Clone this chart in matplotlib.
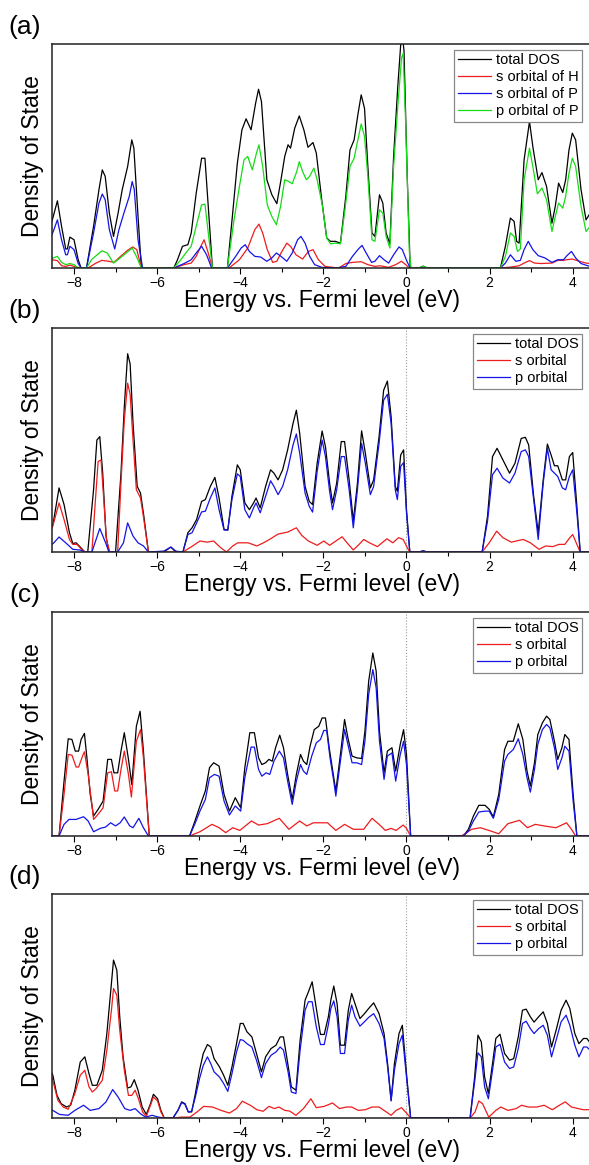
import numpy as np
import matplotlib
matplotlib.use("Agg")
import matplotlib.pyplot as plt
from matplotlib.ticker import MultipleLocator

plt.rcParams["font.family"] = ["Liberation Sans", "DejaVu Sans"]

# (energy eV, DOS in % of panel height)
a_total = [(-8.53,21),(-8.5,23),(-8.4,30),(-8.3,18.6),(-8.2,8.5),(-8.16,8.5),(-8.1,13.8),(-8.0,12.6),(-7.9,3.7),(-7.83,0),(-7.7,0),
           (-7.53,18.6),(-7.4,35),(-7.32,43.8),(-7.25,40.9),(-7.15,24.5),(-7.05,14.1),(-6.94,24.5),(-6.84,35),(-6.71,45.3),
           (-6.61,57.2),(-6.56,53.5),(-6.46,23),(-6.38,0),(-5.6,0),(-5.51,3.7),(-5.39,9.7),(-5.26,10.4),(-5.18,15.6),(-5.06,33.4),
           (-4.93,49),(-4.85,49),(-4.77,27.5),(-4.67,0),(-4.31,0),(-4.19,23),(-4.07,46.8),(-3.96,61.7),(-3.86,66.6),(-3.74,61.7),
           (-3.63,73.6),(-3.56,79.8),(-3.49,74.3),(-3.36,39.4),(-3.24,32.7),(-3.12,28.7),(-3.02,39.4),(-2.93,49.8),(-2.85,55),
           (-2.79,53.5),(-2.69,62.4),(-2.58,67.9),(-2.47,61.7),(-2.37,53.9),(-2.25,56),(-2.17,51.3),(-2.04,30.5),(-1.92,13.4),
           (-1.83,11.9),(-1.71,11.9),(-1.59,11.1),(-1.46,32),(-1.36,52.7),(-1.26,57.2),(-1.17,68.4),(-1.09,77.3),(-1.01,71.3),
           (-0.93,45.3),(-0.83,15.6),(-0.76,14.1),(-0.65,32.7),(-0.57,29),(-0.49,15.6),(-0.4,10.8),(-0.31,49.8),(-0.21,81),
           (-0.14,99.5),(-0.1,104),(-0.06,97),(0.02,39.4),(0.09,0),(0.3,0),(0.4,0.8),(0.5,0),(2.26,0),(2.38,9.7),(2.5,22.3),
           (2.59,20.8),(2.65,11.9),(2.71,11.1),(2.83,48.3),(2.96,65.4),(3.04,54.2),(3.17,39.4),(3.26,42.6),(3.37,36.4),(3.5,20),
           (3.58,27.5),(3.66,37.9),(3.76,33.7),(3.83,39.4),(3.91,52.7),(3.99,60.2),(4.07,57.2),(4.2,35),(4.32,21.5),(4.42,24.5)]
a_s_h = [(-8.53,3.7),(-8.4,3.3),(-8.3,1),(-8.2,0.7),(-8.1,1.3),(-7.95,0.4),(-7.83,0),(-7.66,0),(-7.49,2),(-7.33,3.4),(-7.16,3),
         (-7.04,2.5),(-6.88,5.2),(-6.71,7.9),(-6.59,9.4),(-6.49,8.2),(-6.38,0),(-5.6,0),(-5.35,1.5),(-5.18,2.2),(-5.06,5.2),
         (-4.93,10.4),(-4.87,12.6),(-4.77,6.7),(-4.67,0),(-4.27,0),(-4.02,3.7),(-3.82,8.9),(-3.65,17.1),(-3.55,19.6),(-3.46,15.6),
         (-3.35,8.2),(-3.22,2.5),(-3.12,3),(-3.02,6.7),(-2.88,11.1),(-2.79,9.7),(-2.66,5.9),(-2.5,4),(-2.36,7.4),(-2.25,8.2),
         (-2.12,3.7),(-1.96,0.7),(-1.63,0),(-1.46,2),(-1.3,2.5),(-1.09,2.8),(-0.93,1.5),(-0.76,0.7),(-0.64,1),(-0.43,0.3),
         (-0.26,1.5),(-0.12,3),(-0.02,1.5),(0.07,0),(2.26,0),(2.5,0.4),(2.71,1),(2.83,2.2),(2.96,3.3),(3.08,2.2),(3.24,2),
         (3.5,2.2),(3.64,3.4),(3.78,3.4),(3.86,3.7),(3.99,4),(4.16,3),(4.32,2.2),(4.42,2)]
a_s_p = [(-8.53,15),(-8.5,16.3),(-8.4,21.5),(-8.3,12.6),(-8.2,5.9),(-8.16,5.9),(-8.1,9.7),(-8.0,8.2),(-7.9,2),(-7.83,0),(-7.7,0),
         (-7.53,15.6),(-7.4,29),(-7.32,33),(-7.25,30.5),(-7.15,17.1),(-7.02,8.5),(-6.92,17.1),(-6.8,24.5),(-6.67,32),(-6.6,38.6),
         (-6.55,35),(-6.46,12.6),(-6.35,0),(-5.6,0),(-5.35,2),(-5.18,3.7),(-5.06,6.7),(-4.93,9.7),(-4.81,5.9),(-4.69,0),(-4.31,0),
         (-4.11,5.2),(-3.98,8.9),(-3.88,10.4),(-3.78,7.4),(-3.65,5.2),(-3.51,4.9),(-3.36,3),(-3.24,4.5),(-3.13,6.7),(-3.02,5.2),
         (-2.88,3),(-2.75,6.7),(-2.62,12.6),(-2.54,14.1),(-2.44,11.1),(-2.33,5.2),(-2.21,1.5),(-2.04,0.3),(-1.7,0),(-1.46,0.7),
         (-1.3,5.2),(-1.17,8.2),(-1.07,10.1),(-0.97,6.7),(-0.84,2.5),(-0.76,3),(-0.65,5.5),(-0.54,3.7),(-0.43,2.2),(-0.31,5.9),
         (-0.18,9.4),(-0.1,8.2),(0.01,3),(0.09,0),(0.3,0),(0.4,0.6),(0.5,0),(2.26,0),(2.38,2.2),(2.5,5.9),(2.63,3),(2.74,3.4),
         (2.83,8.2),(2.93,11.9),(3.04,8.2),(3.17,5.5),(3.33,4.5),(3.5,2.5),(3.64,3.7),(3.78,3.7),(3.86,5.5),(3.97,7.4),(4.07,4.5),
         (4.2,2),(4.36,1),(4.42,0.8)]
a_p_p = [(-8.53,4.3),(-8.4,5.2),(-8.3,2.5),(-8.2,1.5),(-8.1,2),(-8.0,1.5),(-7.9,0),(-7.7,0),(-7.58,3.7),(-7.33,7.7),(-7.2,6.7),
         (-7.05,2.2),(-6.84,5.2),(-6.6,8.9),(-6.5,5.2),(-6.38,0),(-5.6,0),(-5.43,3.7),(-5.31,6.7),(-5.18,9.7),(-5.06,18.6),
         (-4.93,28.2),(-4.85,28.5),(-4.75,12.6),(-4.67,0),(-4.31,0),(-4.15,21.5),(-4.02,36.4),(-3.91,48.3),(-3.82,49.8),
         (-3.71,43.8),(-3.61,51.3),(-3.55,55),(-3.46,45.3),(-3.35,28.2),(-3.24,23),(-3.13,19.3),(-3.03,27.5),(-2.93,39.4),
         (-2.83,38.6),(-2.75,37.6),(-2.64,43.1),(-2.58,47.5),(-2.5,43.1),(-2.41,39.4),(-2.33,40.9),(-2.23,44.6),(-2.15,39.4),
         (-2.02,27.5),(-1.92,13.4),(-1.83,10.8),(-1.71,11.1),(-1.59,10.8),(-1.48,26),(-1.36,45.3),(-1.26,49),(-1.17,57.2),
         (-1.09,64.3),(-1.01,58.7),(-0.93,40.9),(-0.83,12.6),(-0.76,11.9),(-0.65,26),(-0.57,24.5),(-0.49,14.1),(-0.4,8.9),
         (-0.31,45.3),(-0.21,72),(-0.12,93.6),(-0.08,95.8),(-0.02,64.6),(0.07,6.7),(0.11,0),(0.3,0),(0.4,0.8),(0.5,0),(2.26,0),
         (2.38,5.2),(2.5,15.6),(2.59,14.1),(2.67,7.4),(2.74,8.5),(2.83,39.4),(2.96,53.5),(3.04,45.3),(3.15,33.1),(3.26,35.7),
         (3.37,30.5),(3.5,16.3),(3.58,23),(3.66,29),(3.76,26.7),(3.83,32),(3.91,42.3),(3.99,49),(4.07,45.3),(4.2,27.5),
         (4.32,16.3),(4.42,18.6)]

b_total = [(-8.53,11),(-8.5,13),(-8.36,28.6),(-8.24,21.2),(-8.11,8.6),(-8.03,3.8),(-7.95,4.1),(-7.86,2.4),(-7.74,0),(-7.67,0),
           (-7.53,27.8),(-7.45,50),(-7.38,51.5),(-7.31,35.2),(-7.23,7.1),(-7.16,0),(-7.0,0),(-6.87,35.2),(-6.79,64.8),(-6.71,88.5),
           (-6.65,84),(-6.58,57.4),(-6.48,29.3),(-6.4,26.3),(-6.32,16),(-6.21,0),(-5.84,0),(-5.67,2.2),(-5.55,0),(-5.38,0),
           (-5.26,8.6),(-5.16,10.8),(-5.05,14.5),(-4.93,22.6),(-4.84,23.4),(-4.72,29.3),(-4.61,33.3),(-4.51,24.1),(-4.39,10.1),
           (-4.3,9.8),(-4.2,24.9),(-4.07,38.9),(-4.0,36.7),(-3.89,21.9),(-3.78,18.9),(-3.68,21.9),(-3.62,24.1),(-3.52,19.7),
           (-3.39,29.3),(-3.27,36.7),(-3.19,35.2),(-3.09,32.2),(-2.98,36.7),(-2.86,45.6),(-2.73,57.4),(-2.65,63.3),(-2.57,53),
           (-2.44,29.3),(-2.34,22.6),(-2.26,21.2),(-2.15,39.6),(-2.03,54),(-1.95,47),(-1.85,30.8),(-1.78,21.9),(-1.68,30.8),
           (-1.57,49.3),(-1.49,49.3),(-1.38,32.2),(-1.28,13.8),(-1.18,30.8),(-1.08,54.1),(-0.99,44.1),(-0.87,28.6),(-0.79,32.2),
           (-0.66,51.5),(-0.55,72.2),(-0.46,76.3),(-0.37,60.4),(-0.27,29.3),(-0.22,27.1),(-0.14,43.3),(-0.07,45.6),(0.0,18.9),
           (0.08,0),(0.3,0),(0.4,0.5),(0.5,0),(1.82,0),(1.95,16),(2.07,42.6),(2.18,46.3),(2.32,41.1),(2.48,35.2),(2.61,39.6),
           (2.76,50.7),(2.86,51.2),(2.94,47.8),(3.06,24.9),(3.17,8.6),(3.29,32.2),(3.39,48.2),(3.48,43.3),(3.56,38.5),(3.64,38.5),
           (3.75,32.2),(3.83,32.2),(3.92,42.6),(4.0,44.4),(4.1,20.4),(4.18,0),(4.42,0)]
b_s = [(-8.53,10.5),(-8.5,12.3),(-8.36,21.9),(-8.24,14.5),(-8.11,5.6),(-8.03,3.4),(-7.93,3.4),(-7.82,1.2),(-7.74,0),(-7.57,0),
       (-7.49,21.9),(-7.42,40.4),(-7.35,41.1),(-7.29,24.9),(-7.22,5.6),(-7.14,0),(-6.95,0),(-6.87,30.8),(-6.79,58.9),(-6.71,75.4),
       (-6.65,70.4),(-6.58,50),(-6.5,27.8),(-6.4,24.1),(-6.32,14.5),(-6.21,0),(-5.38,0),(-5.17,2.4),(-4.97,4.9),(-4.8,4.4),
       (-4.64,4.9),(-4.47,1.9),(-4.33,0),(-4.18,2.7),(-4.06,4.1),(-3.81,4.1),(-3.6,2.7),(-3.44,4.1),(-3.27,5.9),(-3.09,8),
       (-2.86,8.9),(-2.65,10.8),(-2.52,7.4),(-2.36,4.9),(-2.15,3),(-1.99,4.9),(-1.85,3),(-1.7,4.9),(-1.55,6.8),(-1.43,4.1),
       (-1.28,0.9),(-1.16,3),(-1.03,5.6),(-0.89,4.1),(-0.7,2.4),(-0.47,5.9),(-0.33,4.1),(-0.19,6.4),(-0.08,5.6),(0.02,1.9),
       (0.08,0),(1.82,0),(1.99,4.1),(2.17,9.3),(2.32,6.4),(2.52,4.4),(2.81,5.6),(2.98,4.1),(3.19,1.2),(3.35,2.7),(3.52,2.4),
       (3.67,3.4),(3.81,3.4),(3.93,6.4),(4.0,7.8),(4.1,3.4),(4.18,0),(4.42,0)]
b_p = [(-8.53,3.5),(-8.5,3.8),(-8.36,6.7),(-8.2,4.1),(-8.03,1.2),(-7.86,0.9),(-7.74,0),(-7.57,0),(-7.38,10.5),(-7.24,4.1),
       (-7.16,0),(-6.95,0),(-6.81,4.1),(-6.71,13),(-6.58,7.1),(-6.46,4.1),(-6.33,2.7),(-6.21,0),(-5.84,0.4),(-5.67,2.2),
       (-5.55,0.4),(-5.38,0),(-5.26,7.8),(-5.16,8.6),(-5.05,13),(-4.93,17.9),(-4.84,18.2),(-4.72,24.1),(-4.61,28.6),(-4.51,18.9),
       (-4.39,9.8),(-4.3,9.8),(-4.2,23.4),(-4.07,34.9),(-4.0,33.7),(-3.89,18.9),(-3.78,15.2),(-3.68,19.7),(-3.62,21.9),
       (-3.52,17.5),(-3.39,24.9),(-3.27,31.8),(-3.19,29.3),(-3.09,25.6),(-2.98,29.3),(-2.86,36.7),(-2.73,47.8),(-2.65,52.7),
       (-2.57,44.1),(-2.44,26.3),(-2.34,20.4),(-2.26,17.8),(-2.15,35.9),(-2.03,50),(-1.95,42.6),(-1.85,27.1),(-1.78,18.9),
       (-1.68,27.8),(-1.57,42.6),(-1.49,42.6),(-1.38,27.8),(-1.28,10.8),(-1.18,27.8),(-1.08,48.5),(-0.99,39.6),(-0.87,25.6),
       (-0.79,29.3),(-0.66,48.5),(-0.55,67.8),(-0.46,70.4),(-0.37,57.4),(-0.27,27.8),(-0.22,23.4),(-0.14,38.2),(-0.07,39.9),
       (0.0,17.5),(0.08,0),(0.3,0),(0.4,0.5),(0.5,0),(1.82,0),(1.95,13.8),(2.07,34.5),(2.18,37.4),(2.32,33),(2.48,30.8),
       (2.61,35.2),(2.76,44.8),(2.86,45.6),(2.94,42.6),(3.06,23.4),(3.17,5.6),(3.29,30.8),(3.39,46.3),(3.48,36.7),(3.56,35.2),
       (3.64,33.7),(3.75,28.6),(3.83,27.8),(3.92,33.7),(4.0,36.7),(4.1,17.5),(4.18,0),(4.42,0)]

c_total = [(-8.53,0),(-8.36,0),(-8.24,24.5),(-8.14,43.4),(-8.05,43.1),(-7.97,37.9),(-7.89,37.9),(-7.83,43.1),(-7.75,45.8),
           (-7.69,34.9),(-7.61,18.6),(-7.53,8.9),(-7.42,11.9),(-7.3,15.6),(-7.19,34.2),(-7.1,34.2),(-7.04,28.2),(-6.95,28.2),
           (-6.87,37.9),(-6.79,46.1),(-6.69,34.2),(-6.61,23),(-6.5,49),(-6.41,55.7),(-6.33,37.9),(-6.19,0),(-5.22,0),(-5.09,6.7),
           (-4.97,13.4),(-4.84,20.1),(-4.74,30.5),(-4.64,32.7),(-4.51,31.2),(-4.39,18.6),(-4.26,11.1),(-4.12,17.1),(-3.99,12.6),
           (-3.89,30.5),(-3.77,46.1),(-3.66,46.1),(-3.56,34.9),(-3.48,31.9),(-3.39,32.7),(-3.31,34.2),(-3.23,33.4),(-3.15,39.4),
           (-3.05,45),(-2.96,39.4),(-2.86,27.5),(-2.75,16.3),(-2.65,27.5),(-2.55,36.4),(-2.48,33.4),(-2.4,31.9),(-2.32,40.1),
           (-2.22,47.5),(-2.11,49),(-2.03,52.7),(-1.95,52.7),(-1.86,39.4),(-1.75,26),(-1.7,20.1),(-1.59,36.4),(-1.49,52),
           (-1.41,43.8),(-1.31,35.7),(-1.2,34.9),(-1.08,34.6),(-1.0,46.8),(-0.91,69.1),(-0.81,81.7),(-0.73,73.6),(-0.65,46.8),
           (-0.54,28.2),(-0.46,37.9),(-0.35,39.4),(-0.26,29),(-0.15,40.9),(-0.07,47.5),(0.0,36.4),(0.1,0),(1.37,0),(1.49,3),
           (1.61,8.9),(1.74,13.7),(1.89,13.7),(1.99,11.9),(2.09,8.5),(2.22,18.6),(2.36,38.6),(2.44,42.3),(2.57,42.3),(2.69,50.1),
           (2.8,43.1),(2.9,29),(2.98,22.3),(3.08,32.7),(3.16,45.3),(3.27,50.5),(3.37,53.5),(3.45,52),(3.56,42.3),(3.64,34.2),
           (3.74,39.4),(3.81,45.3),(3.91,43.1),(4.01,18.6),(4.1,0),(4.42,0)]
c_s = [(-8.53,0),(-8.36,0),(-8.24,18.6),(-8.14,36.4),(-8.05,36.1),(-7.95,30.8),(-7.89,30.8),(-7.78,36.4),(-7.75,37.6),
       (-7.66,27.5),(-7.57,14.1),(-7.53,7.4),(-7.42,9.7),(-7.3,12.6),(-7.19,28.2),(-7.1,28.7),(-7.02,20.1),(-6.95,20.1),
       (-6.87,29.7),(-6.79,37.9),(-6.69,27.5),(-6.62,17.4),(-6.5,42.3),(-6.4,47.5),(-6.33,34.9),(-6.19,0),(-5.22,0),(-4.97,1.9),
       (-4.68,5.2),(-4.51,3.7),(-4.35,1.5),(-4.18,3.7),(-4.01,2.5),(-3.73,6.7),(-3.56,4.9),(-3.35,5.5),(-3.06,7.9),(-2.83,3),
       (-2.57,6.7),(-2.4,4.5),(-2.24,5.9),(-1.9,5.9),(-1.7,2.5),(-1.49,5.2),(-1.28,3),(-1.03,3),(-0.83,7.9),(-0.66,5.2),
       (-0.51,2.5),(-0.37,3.4),(-0.25,2.5),(-0.08,4.9),(0.0,3.4),(0.1,0),(1.32,0),(1.57,3),(1.78,3.7),(2.03,2.2),(2.22,1),
       (2.44,5.5),(2.72,7),(2.91,3.7),(3.1,5.2),(3.31,4.5),(3.6,3.7),(3.85,5.9),(3.97,3),(4.07,0),(4.42,0)]
c_p = [(-8.53,0),(-8.36,0),(-8.24,5.2),(-8.12,7.4),(-7.95,7.4),(-7.77,8.6),(-7.66,6.7),(-7.53,1.9),(-7.37,3.4),(-7.24,4),
       (-7.12,5.9),(-7.0,4.5),(-6.89,5.9),(-6.79,8.5),(-6.66,4.5),(-6.58,3.7),(-6.44,7.9),(-6.33,3.7),(-6.21,0),(-5.22,0),
       (-5.09,5.5),(-4.97,11.1),(-4.84,16.3),(-4.74,26),(-4.62,27.5),(-4.51,26.7),(-4.39,15.6),(-4.26,9.4),(-4.12,13.4),
       (-3.99,11.1),(-3.89,26),(-3.74,39.7),(-3.66,39.7),(-3.56,29.7),(-3.48,26.7),(-3.38,28.2),(-3.29,27.5),(-3.19,33.4),
       (-3.06,37.9),(-2.96,34.9),(-2.86,24.5),(-2.75,14.1),(-2.65,24.5),(-2.55,31.9),(-2.48,29),(-2.4,27.5),(-2.28,35.7),
       (-2.17,41.6),(-2.07,43.1),(-1.99,47.1),(-1.92,47.1),(-1.84,34.9),(-1.75,24.5),(-1.7,17.8),(-1.59,33.4),(-1.49,47.5),
       (-1.41,40.9),(-1.31,32.7),(-1.2,32.7),(-1.08,31.9),(-1.0,42.3),(-0.91,63.2),(-0.81,74.3),(-0.73,66.1),(-0.65,42.3),
       (-0.54,25.3),(-0.46,35.7),(-0.35,37.1),(-0.26,24.5),(-0.15,36.4),(-0.07,42.3),(0.0,31.9),(0.1,0),(1.37,0),(1.49,2.2),
       (1.61,6.7),(1.74,10.7),(1.89,11.1),(1.99,11.1),(2.09,7.9),(2.22,16.3),(2.36,33.4),(2.44,36.4),(2.57,38.6),(2.69,43.4),
       (2.8,36.4),(2.9,26),(2.98,19.6),(3.08,29.7),(3.16,40.9),(3.27,47.5),(3.37,49.8),(3.45,48.3),(3.56,39.4),(3.64,29.7),
       (3.74,34.9),(3.81,40.1),(3.91,37.9),(4.01,15.6),(4.1,0),(4.42,0)]

d_total = [(-8.53,20),(-8.51,19.1),(-8.41,10.1),(-8.31,6.4),(-8.18,4.9),(-8.08,5.7),(-7.98,12.4),(-7.85,25),(-7.74,27.3),
           (-7.64,19.8),(-7.56,14.6),(-7.45,14.6),(-7.32,21.3),(-7.21,37.7),(-7.1,60.1),(-7.05,70.5),(-6.97,66),(-6.9,45.2),
           (-6.82,27.3),(-6.71,13.4),(-6.63,13.9),(-6.55,17.1),(-6.46,12.4),(-6.36,4.9),(-6.26,1.6),(-6.16,6.4),(-6.09,10.6),
           (-5.99,8.6),(-5.91,3.4),(-5.83,0),(-5.62,0),(-5.5,3.4),(-5.41,7.2),(-5.33,6.4),(-5.25,2.7),(-5.17,2.7),(-5.08,10.9),
           (-4.98,21.3),(-4.89,28.8),(-4.79,32.8),(-4.71,31.7),(-4.63,26.5),(-4.5,22.8),(-4.4,19.1),(-4.3,14.6),(-4.2,22.8),
           (-4.09,33.2),(-4.0,42.2),(-3.93,42.2),(-3.84,38.5),(-3.72,36.2),(-3.61,28.8),(-3.49,20.6),(-3.39,27.3),(-3.26,31),
           (-3.14,32.5),(-3.04,36.2),(-2.96,36.2),(-2.85,23.5),(-2.77,13.9),(-2.66,12.4),(-2.56,34.7),(-2.44,52.6),(-2.36,56.3),
           (-2.27,60.8),(-2.17,48.9),(-2.07,37.3),(-1.98,37.3),(-1.88,45.2),(-1.82,52.6),(-1.75,58.9),(-1.67,51.1),(-1.59,32.5),
           (-1.49,32.5),(-1.4,48.1),(-1.32,55.6),(-1.24,51.1),(-1.12,44.4),(-1.01,46.6),(-0.91,48.9),(-0.79,51.4),(-0.66,46.6),
           (-0.54,37.7),(-0.45,23.5),(-0.37,7.9),(-0.29,24.3),(-0.18,37.7),(-0.1,41.4),(0.0,19.8),(0.1,0),(1.53,0),(1.64,18.3),
           (1.72,37),(1.8,34),(1.88,18.3),(1.97,10.9),(2.07,24.3),(2.15,35.5),(2.25,37.4),(2.36,28.8),(2.48,25.8),(2.58,26.5),
           (2.69,36.2),(2.79,48.1),(2.88,48.6),(2.98,45.2),(3.07,42.8),(3.18,45.2),(3.29,47.4),(3.39,42.2),(3.49,31.7),(3.6,39.2),
           (3.72,48.1),(3.84,52.6),(3.93,48.9),(4.05,37.7),(4.15,33.2),(4.26,35.5),(4.34,35.5),(4.42,33.5)]
d_s = [(-8.53,18),(-8.51,16.8),(-8.39,7.9),(-8.26,4.9),(-8.14,3.9),(-7.98,10.9),(-7.85,19.1),(-7.74,21.3),(-7.64,13.9),
       (-7.56,11.6),(-7.47,13.1),(-7.32,16.8),(-7.21,30.3),(-7.1,48.1),(-7.05,57.8),(-6.97,54.8),(-6.9,39.2),(-6.79,21.3),
       (-6.69,10.1),(-6.61,10.1),(-6.53,12.4),(-6.45,8.6),(-6.35,2.7),(-6.26,0.7),(-6.16,5.7),(-6.09,9.4),(-5.99,7.6),
       (-5.91,2.7),(-5.83,0),(-5.62,0),(-5.41,0.4),(-5.21,0.4),(-5.04,2.7),(-4.88,5.2),(-4.67,4.9),(-4.46,3.4),(-4.26,2.2),
       (-4.09,4.2),(-3.95,7.5),(-3.76,5.7),(-3.6,3.7),(-3.45,3),(-3.31,5.2),(-3.18,4.2),(-3.07,4.9),(-2.93,3.4),(-2.81,3.1),
       (-2.66,1.2),(-2.48,4.2),(-2.3,8.6),(-2.17,4.6),(-1.98,5.2),(-1.78,6.7),(-1.61,4.2),(-1.45,4.9),(-1.32,4.9),(-1.16,3.4),
       (-0.99,3.7),(-0.83,4.9),(-0.66,4.9),(-0.54,3.4),(-0.37,1.2),(-0.25,3.4),(-0.12,4.6),(0.0,2.2),(0.1,0),(1.53,0),
       (1.65,2.7),(1.74,7.6),(1.83,6.4),(1.98,0.4),(2.15,3.4),(2.27,4.9),(2.44,3.4),(2.64,4.2),(2.77,5.7),(2.93,4.9),(3.14,4.9),
       (3.31,5.7),(3.51,3.7),(3.68,5.7),(3.82,7.2),(3.97,4.9),(4.13,4.2),(4.26,3.7),(4.42,3.7)]
d_p = [(-8.53,3.6),(-8.35,1.6),(-8.14,1.2),(-7.98,3.4),(-7.77,5.7),(-7.61,3.4),(-7.4,4.2),(-7.23,7.2),(-7.07,12.7),(-6.94,9.4),
       (-6.78,4.2),(-6.65,3.4),(-6.53,4.2),(-6.4,1.9),(-6.28,0.4),(-6.12,1.2),(-5.97,0.4),(-5.83,0),(-5.62,0),(-5.5,3.4),
       (-5.41,6.9),(-5.33,6.1),(-5.25,2.7),(-5.17,3),(-5.08,9.4),(-4.98,17.6),(-4.89,23.5),(-4.79,27.3),(-4.71,24.3),(-4.63,20.6),
       (-4.5,18.3),(-4.4,15.4),(-4.3,11.9),(-4.2,19.8),(-4.09,29.5),(-4.0,35),(-3.93,34.7),(-3.84,33.2),(-3.72,31.7),(-3.61,25.8),
       (-3.49,18),(-3.39,24.3),(-3.26,28),(-3.14,29.5),(-3.04,31.7),(-2.96,30.3),(-2.85,20.6),(-2.77,11.6),(-2.66,10.9),
       (-2.56,30.3),(-2.44,48.1),(-2.36,51.9),(-2.27,51.9),(-2.17,40.7),(-2.07,32.8),(-1.98,32.8),(-1.88,41.6),(-1.82,48.9),
       (-1.75,52.3),(-1.67,45.2),(-1.59,28.8),(-1.49,28.8),(-1.4,43.7),(-1.32,50.4),(-1.24,45.2),(-1.12,41),(-1.01,43),
       (-0.91,44.9),(-0.79,46.6),(-0.66,42.2),(-0.54,35.5),(-0.45,22.1),(-0.37,7.6),(-0.29,21.3),(-0.18,33.2),(-0.1,37),
       (0.0,18.3),(0.1,0),(1.53,0),(1.64,16.1),(1.72,29.1),(1.8,27.3),(1.88,13.9),(1.97,8.6),(2.07,21.3),(2.15,31.7),(2.25,32.9),
       (2.36,25),(2.48,22.1),(2.58,22.8),(2.69,31),(2.79,42.2),(2.88,43.2),(2.98,39.9),(3.07,37.7),(3.18,39.9),(3.29,41.4),
       (3.39,37),(3.49,27.3),(3.6,34.7),(3.72,42.9),(3.84,45.9),(3.93,41.4),(4.05,32.5),(4.15,27.3),(4.26,31.7),(4.34,31.7),
       (4.42,30.2)]

panel_tags = ["(a)", "(b)", "(c)", "(d)"]
series_a = [("total DOS", a_total, "black"), ("s orbital of H", a_s_h, "#ee1c1c"),
            ("s orbital of P", a_s_p, "#1414e6"), ("p orbital of P", a_p_p, "#16dc16")]
series_b = [("total DOS", b_total, "black"), ("s orbital", b_s, "#ee1c1c"), ("p orbital", b_p, "#1414e6")]
series_c = [("total DOS", c_total, "black"), ("s orbital", c_s, "#ee1c1c"), ("p orbital", c_p, "#1414e6")]
series_d = [("total DOS", d_total, "black"), ("s orbital", d_s, "#ee1c1c"), ("p orbital", d_p, "#1414e6")]
panels = [series_a, series_b, series_c, series_d]
fermi_line = [False, True, True, True]

W, H = 589, 1165
fig = plt.figure(figsize=(W / 100, H / 100), dpi=100)

axes_top = [44, 328, 612, 894]   # pixel rows of the frame tops
axes_h = 224
left = 52

for i, series in enumerate(panels):
    top = axes_top[i]
    ax = fig.add_axes([left / W, 1 - (top + axes_h) / H, (W - left) / W + 0.002, axes_h / H])
    if fermi_line[i]:
        ax.axvline(0, color="#999999", linestyle=":", linewidth=0.8, zorder=1)
    for name, pts, col in series:
        e, v = zip(*pts)
        ax.plot(e, v, color=col, linewidth=0.9, label=name)
    ax.set_xlim(-8.53, 4.42)
    ax.set_ylim(0, 100)
    ax.set_yticks([])
    ax.xaxis.set_major_locator(MultipleLocator(2))
    ax.xaxis.set_minor_locator(MultipleLocator(1))
    ax.tick_params(axis="x", which="major", direction="out", length=4, width=0.8, labelsize=10, pad=2)
    ax.tick_params(axis="x", which="minor", direction="out", length=3, width=0.8)
    ax.spines["right"].set_visible(False)
    for s in ["top", "left", "bottom"]:
        ax.spines[s].set_linewidth(1.1)
        ax.spines[s].set_color("#222222")
    leg = ax.legend(loc="upper right", bbox_to_anchor=(0.985, 0.975), fontsize=10.5, frameon=True,
                    fancybox=False, edgecolor="#888888", framealpha=1, borderpad=0.25, labelspacing=0.2,
                    handlelength=2.3, handletextpad=0.3, borderaxespad=0)
    leg.get_frame().set_linewidth(0.9)

    fig.text(25 / W, 1 - (top - 17) / H, panel_tags[i], fontsize=19, ha="center", va="center")
    fig.text(322 / W, 1 - (top + axes_h + 32) / H, "Energy vs. Fermi level (eV)", fontsize=16.5,
             ha="center", va="center")
    fig.text(33 / W, 1 - (top + axes_h / 2) / H, "Density of State", fontsize=16.5, rotation=90,
             ha="center", va="center")

fig.savefig("out.png", dpi=100)
